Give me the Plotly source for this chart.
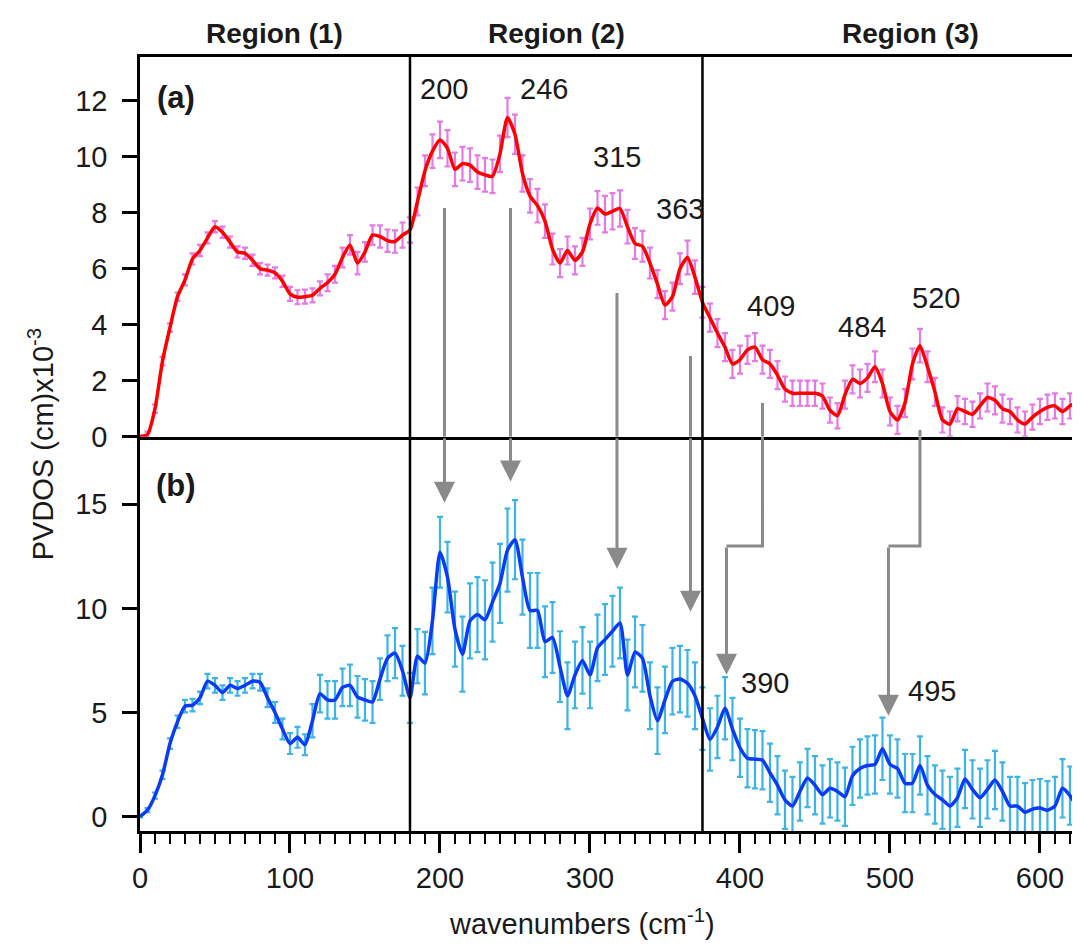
import plotly.graph_objects as go

# ---------------- data ----------------
wavenumber = [0, 5, 10, 15, 20, 25, 30, 35, 40, 45,
              50, 55, 60, 65, 70, 75, 80, 85, 90, 95,
              100, 105, 110, 115, 120, 125, 130, 135, 140, 145,
              150, 155, 160, 165, 170, 175, 180, 185, 190, 195,
              200, 205, 210, 215, 220, 225, 230, 235, 240, 245,
              250, 255, 260, 265, 270, 275, 280, 285, 290, 295,
              300, 305, 310, 315, 320, 325, 330, 335, 340, 345,
              350, 355, 360, 365, 370, 375, 380, 385, 390, 395,
              400, 405, 410, 415, 420, 425, 430, 435, 440, 445,
              450, 455, 460, 465, 470, 475, 480, 485, 490, 495,
              500, 505, 510, 515, 520, 525, 530, 535, 540, 545,
              550, 555, 560, 565, 570, 575, 580, 585, 590, 595,
              600, 605, 610, 615, 620, 625]

pvdos_a = [0.0, 0.08, 1.0, 2.7, 3.9, 5.0, 5.6, 6.35, 6.65, 7.1,
           7.5, 7.3, 6.95, 6.6, 6.55, 6.3, 6.0, 5.95, 5.85, 5.55,
           5.1, 4.98, 5.0, 5.05, 5.3, 5.5, 5.8, 6.4, 6.85, 6.2,
           6.6, 7.2, 7.15, 7.0, 6.97, 7.2, 7.38, 8.4, 9.5, 10.2,
           10.6, 10.3, 9.55, 9.75, 9.7, 9.45, 9.35, 9.3, 10.1, 11.4,
           10.8, 9.4, 8.6, 8.25, 7.7, 6.7, 6.2, 6.65, 6.3, 6.6,
           7.6, 8.17, 7.95, 8.05, 8.15, 7.5, 6.9, 6.8, 6.2, 5.45,
           4.7, 5.0, 6.0, 6.4, 5.7, 4.8, 4.25, 3.7, 3.2, 2.6,
           2.75, 3.1, 3.2, 2.75, 2.6, 2.2, 1.7, 1.55, 1.55, 1.55,
           1.55, 1.45, 0.95, 0.75, 1.5, 2.05, 1.9, 2.1, 2.5, 1.9,
           0.9, 0.6, 1.2, 2.6, 3.25, 2.5, 1.6, 0.6, 0.45, 1.0,
           0.9, 0.8, 1.1, 1.4, 1.3, 1.0, 0.9, 0.6, 0.45, 0.7,
           0.9, 1.05, 1.1, 0.9, 1.1, 1.25]

err_a = [0.05, 0.1, 0.15, 0.15, 0.15, 0.15, 0.2, 0.2, 0.2, 0.2,
         0.2, 0.2, 0.2, 0.2, 0.2, 0.2, 0.2, 0.2, 0.2, 0.2,
         0.25, 0.25, 0.25, 0.25, 0.25, 0.3, 0.3, 0.35, 0.35, 0.4,
         0.35, 0.35, 0.4, 0.4, 0.4, 0.45, 0.45, 0.5, 0.55, 0.6,
         0.65, 0.65, 0.6, 0.6, 0.6, 0.6, 0.6, 0.6, 0.65, 0.7,
         0.7, 0.65, 0.6, 0.6, 0.6, 0.55, 0.5, 0.5, 0.5, 0.5,
         0.55, 0.6, 0.65, 0.65, 0.65, 0.6, 0.55, 0.55, 0.55, 0.5,
         0.5, 0.5, 0.55, 0.6, 0.6, 0.55, 0.5, 0.5, 0.5, 0.5,
         0.5, 0.5, 0.5, 0.5, 0.5, 0.5, 0.45, 0.45, 0.45, 0.45,
         0.45, 0.45, 0.45, 0.45, 0.5, 0.5, 0.5, 0.5, 0.55, 0.5,
         0.5, 0.5, 0.5, 0.55, 0.6, 0.55, 0.5, 0.45, 0.45, 0.45,
         0.45, 0.45, 0.45, 0.5, 0.5, 0.5, 0.45, 0.45, 0.45, 0.45,
         0.45, 0.45, 0.45, 0.45, 0.45, 0.45]

pvdos_b = [0.0, 0.3, 1.0, 2.0, 3.5, 4.55, 5.3, 5.35, 5.7, 6.5,
           6.3, 5.95, 6.3, 6.15, 6.3, 6.5, 6.45, 5.7, 5.0, 4.2,
           3.5, 3.8, 3.45, 4.6, 5.9, 5.6, 5.6, 6.2, 6.3, 5.75,
           5.6, 5.5, 6.6, 7.6, 7.85, 7.0, 5.7, 7.7, 7.37, 9.4,
           12.7, 11.5, 9.0, 7.8, 9.4, 9.7, 9.45, 10.3, 11.2, 12.8,
           13.3, 11.5, 9.9, 9.9, 8.4, 8.6, 7.2, 5.8, 6.8, 7.5,
           6.8, 8.1, 8.5, 8.9, 9.3, 6.8, 7.9, 7.6, 5.8, 4.6,
           5.6, 6.5, 6.6, 6.4, 5.8, 4.7, 3.7, 4.3, 5.2, 4.2,
           3.3, 2.8, 2.75, 2.7, 2.1, 1.5, 0.8, 0.5, 1.2, 1.85,
           1.5, 1.05, 1.35, 1.2, 0.95, 1.95, 2.3, 2.45, 2.5, 3.25,
           2.5, 2.3, 1.6, 1.6, 2.45, 1.5, 1.05, 0.8, 0.5, 0.9,
           1.8, 1.3, 0.9, 1.3, 1.75, 1.2, 0.5, 0.5, 0.2, 0.35,
           0.4, 0.3, 0.5, 1.35, 1.0, 0.4]

err_b = [0.05, 0.1, 0.15, 0.2, 0.25, 0.3, 0.3, 0.3, 0.3, 0.35,
         0.35, 0.35, 0.35, 0.35, 0.35, 0.35, 0.4, 0.45, 0.5, 0.5,
         0.5, 0.5, 0.5, 0.8, 0.9, 0.9, 0.9, 0.9, 1.0, 1.0,
         1.0, 1.0, 1.0, 1.1, 1.2, 1.2, 1.2, 1.3, 1.5, 1.6,
         1.7, 1.7, 1.8, 1.8, 1.8, 1.8, 1.9, 1.9, 1.9, 2.0,
         1.9, 1.8, 1.8, 1.8, 1.7, 1.7, 1.7, 1.6, 1.6, 1.6,
         1.6, 1.6, 1.7, 1.7, 1.7, 1.7, 1.7, 1.6, 1.6, 1.6,
         1.6, 1.6, 1.6, 1.6, 1.6, 1.5, 1.5, 1.5, 1.5, 1.5,
         1.4, 1.4, 1.4, 1.4, 1.4, 1.4, 1.4, 1.4, 1.4, 1.4,
         1.4, 1.4, 1.4, 1.4, 1.4, 1.4, 1.4, 1.4, 1.4, 1.5,
         1.4, 1.4, 1.4, 1.4, 1.4, 1.4, 1.4, 1.4, 1.4, 1.4,
         1.4, 1.4, 1.4, 1.4, 1.4, 1.4, 1.4, 1.4, 1.4, 1.4,
         1.4, 1.4, 1.4, 1.4, 1.4, 1.4]

# region boundaries and labels
region_bounds = [180, 375]
region_labels = ["Region (1)", "Region (2)", "Region (3)"]
region_label_x = [90, 277.5, 514]

# peak labels
peak_a_text = ["200", "246", "315", "363", "409", "484", "520"]
peak_a_x = [202.7, 269.3, 317.8, 360.0, 420.5, 481.5, 530.5]
peak_a_y = [12.42, 12.42, 9.99, 8.13, 4.66, 3.9, 4.97]
peak_b_text = ["390", "495"]
peak_b_x = [416.7, 527.8]
peak_b_y = [6.43, 6.02]

# straight arrows: x, start (panel a units), tip (panel b units)
arrow_x = [203, 247, 318, 367]
arrow_start_a = [8.17, 8.17, 5.13, 2.88]
arrow_tip_b = [15.08, 16.1, 11.9, 9.84]
# elbow arrows
elbow_from_x = [415, 520]
elbow_to_x = [391, 499]
elbow_start_a = [1.2, 0.24]
elbow_level_b = [13.0, 13.0]
elbow_tip_b = [6.81, 4.84]

X_RANGE = [0, 626.7]
YA_RANGE = [0, 13.56]
YB_RANGE = [-0.7, 18.25]

FONT = "Liberation Sans, Arial, sans-serif"
GRAY = "#8a8a8a"
TXT = "#1a1a1a"

fig = go.Figure()

# panel (a)
fig.add_trace(go.Scatter(
    x=wavenumber, y=pvdos_a, mode="markers",
    marker=dict(size=2, color="rgba(0,0,0,0)"),
    error_y=dict(type="data", array=err_a, color="#e57ae5", thickness=2.2, width=3),
    xaxis="x", yaxis="y", showlegend=False, hoverinfo="skip"))
fig.add_trace(go.Scatter(
    x=wavenumber, y=pvdos_a, mode="lines",
    line=dict(color="#ff0000", width=3.5, shape="spline", smoothing=0.6),
    xaxis="x", yaxis="y", showlegend=False))

# panel (b)
fig.add_trace(go.Scatter(
    x=wavenumber, y=pvdos_b, mode="markers",
    marker=dict(size=2, color="rgba(0,0,0,0)"),
    error_y=dict(type="data", array=err_b, color="#3db4e8", thickness=2.2, width=3),
    xaxis="x2", yaxis="y2", showlegend=False, hoverinfo="skip"))
fig.add_trace(go.Scatter(
    x=wavenumber, y=pvdos_b, mode="lines",
    line=dict(color="#0a3cf5", width=3.5, shape="spline", smoothing=0.6),
    xaxis="x2", yaxis="y2", showlegend=False))

dom_split = (831 - 436.7) / 774

axis_common = dict(showgrid=False, zeroline=False, linecolor="black", linewidth=2.5,
                   tickcolor="black", tickfont=dict(family=FONT, size=29, color=TXT))

fig.update_layout(
    width=1072, height=941,
    margin=dict(l=132, r=0, t=49, b=118),
    paper_bgcolor="white", plot_bgcolor="white",
    font=dict(family=FONT, color=TXT),
    xaxis=dict(domain=[0, 1], range=X_RANGE, anchor="y", matches="x2",
               showline=True, mirror=True, ticks="", showticklabels=False,
               **axis_common),
    xaxis2=dict(domain=[0, 1], range=X_RANGE, anchor="y2", showline=True,
                ticks="outside", ticklen=19, tickwidth=2.5, tick0=0, dtick=100,
                minor=dict(dtick=10, ticks="outside", ticklen=10, tickwidth=2, tickcolor="black"),
                **axis_common),
    yaxis=dict(domain=[dom_split, 1], range=YA_RANGE, anchor="x", showline=True,
               ticks="outside", ticklen=15, tickwidth=2.5, tick0=0, dtick=2,
               ticklabelstandoff=9, **axis_common),
    yaxis2=dict(domain=[0, dom_split], range=YB_RANGE, anchor="x2", showline=True,
                ticks="outside", ticklen=15, tickwidth=2.5, tick0=0, dtick=5,
                ticklabelstandoff=9, **axis_common),
)

# region boundary lines
for v in region_bounds:
    fig.add_shape(type="line", xref="x", yref="paper", x0=v, x1=v, y0=0, y1=1,
                  line=dict(color="black", width=2.5), layer="above")

# region labels
for t, xv in zip(region_labels, region_label_x):
    fig.add_annotation(text="<b>%s</b>" % t, xref="x", yref="paper", x=xv, y=1.031,
                       showarrow=False, xanchor="center", yanchor="middle",
                       font=dict(family=FONT, size=28, color=TXT))

# panel letters
fig.add_annotation(text="<b>(a)</b>", xref="x", yref="y", x=24, y=12.13, showarrow=False,
                   font=dict(family=FONT, size=31, color=TXT))
fig.add_annotation(text="<b>(b)</b>", xref="x2", yref="y2", x=24, y=15.9, showarrow=False,
                   font=dict(family=FONT, size=31, color=TXT))

# peak labels
for t, xv, yv in zip(peak_a_text, peak_a_x, peak_a_y):
    fig.add_annotation(text=t, xref="x", yref="y", x=xv, y=yv, showarrow=False,
                       font=dict(family=FONT, size=29, color=TXT))
for t, xv, yv in zip(peak_b_text, peak_b_x, peak_b_y):
    fig.add_annotation(text=t, xref="x2", yref="y2", x=xv, y=yv, showarrow=False,
                       font=dict(family=FONT, size=29, color=TXT))

arrow_style = dict(showarrow=True, arrowhead=2, arrowsize=1.4, arrowwidth=3,
                   arrowcolor=GRAY, text="")

# straight arrows
for xv, ys, yt in zip(arrow_x, arrow_start_a, arrow_tip_b):
    fig.add_shape(type="line", xref="x", yref="y", x0=xv, x1=xv, y0=ys, y1=YA_RANGE[0],
                  line=dict(color=GRAY, width=3))
    fig.add_annotation(xref="x2", yref="y2", axref="x2", ayref="y2",
                       x=xv, y=yt, ax=xv, ay=YB_RANGE[1], **arrow_style)

# elbow arrows
for xf, xt, ys, yl, yt in zip(elbow_from_x, elbow_to_x, elbow_start_a, elbow_level_b, elbow_tip_b):
    fig.add_shape(type="line", xref="x", yref="y", x0=xf, x1=xf, y0=ys, y1=YA_RANGE[0],
                  line=dict(color=GRAY, width=3))
    fig.add_shape(type="path", xref="x2", yref="y2",
                  path="M %s,%s L %s,%s L %s,%s" % (xf, YB_RANGE[1], xf, yl, xt, yl),
                  line=dict(color=GRAY, width=3))
    fig.add_annotation(xref="x2", yref="y2", axref="x2", ayref="y2",
                       x=xt, y=yt, ax=xt, ay=yl, **arrow_style)

# axis titles
fig.add_annotation(text="PVDOS (cm)x10<sup>-3</sup>", xref="paper", yref="paper",
                   x=-0.105, y=0.5, textangle=-90, showarrow=False,
                   xanchor="center", yanchor="middle",
                   font=dict(family=FONT, size=29, color=TXT))
fig.add_annotation(text="wavenumbers (cm<sup>-1</sup>)", xref="paper", yref="paper",
                   x=0.47, y=-0.1176, showarrow=False, xanchor="center", yanchor="middle",
                   font=dict(family=FONT, size=29, color=TXT))

fig.write_html("out.html")
